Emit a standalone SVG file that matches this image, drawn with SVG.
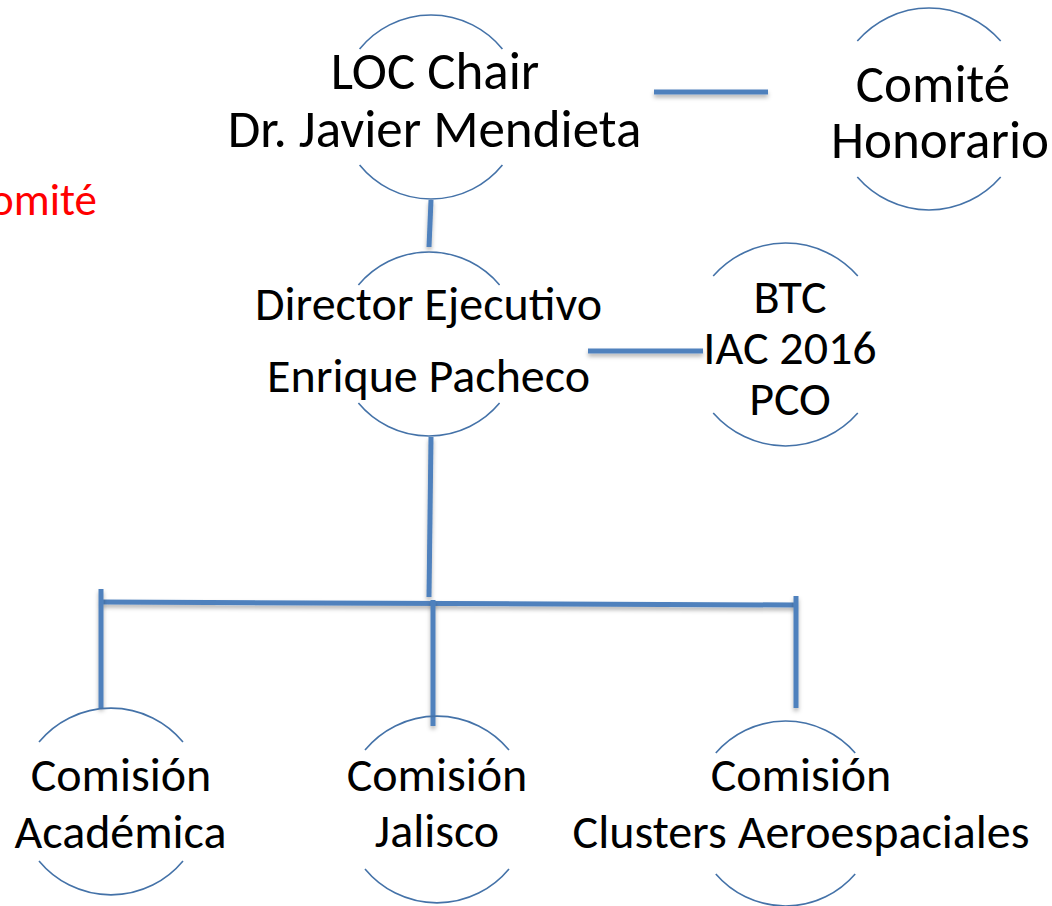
<svg xmlns="http://www.w3.org/2000/svg" width="1052" height="906" viewBox="0 0 1052 906">
<style>
.arc{fill:none;stroke:#4472A8;stroke-width:1.6}
.t{font-family:Carlito,Lato,'Open Sans',sans-serif;fill:#000;text-anchor:middle}
.l{font-size:53px}
.m{font-size:48px}
.red{font-family:Carlito,Lato,'Open Sans',sans-serif;font-size:45px;fill:#FF0000;text-anchor:end}
.c{fill:none;stroke:#4F81BD;stroke-width:5;filter:url(#sh)}
</style>
<defs>
<filter id="sh" filterUnits="userSpaceOnUse" x="0" y="0" width="1052" height="906">
<feDropShadow dx="0" dy="3" stdDeviation="2" flood-color="#000" flood-opacity="0.3"/>
</filter>
</defs>
<rect width="1052" height="906" fill="#fff"/>
<text class="red" x="97" y="215">Comité</text>
<g id="connectors">
<path class="c" d="M654,92 L768,92"/>
<path class="c" d="M431,200 L429,247"/>
<path class="c" d="M588,351 L703,351"/>
<path class="c" d="M431,437 L429,597"/>
<path class="c" d="M101,602 L796,605"/>
<path class="c" d="M101,589 L101,708"/>
<path class="c" d="M796,596 L796,708"/>
<path class="c" d="M433,600 L433,726"/>
</g>
<g id="loc-chair">
<path class="arc" d="M359.6,49 A92,92 0 0 1 502.4,49"/>
<path class="arc" d="M359.6,165 A92,92 0 0 0 502.4,165"/>
<text class="t l" x="435" y="89">LOC Chair</text>
<text class="t l" x="434.5" y="147">Dr. Javier Mendieta</text>
</g>
<g id="comite-honorario">
<path class="arc" d="M857.3,41 A97,101 0 0 1 1000.7,41"/>
<path class="arc" d="M857.3,177 A97,101 0 0 0 1000.7,177"/>
<text class="t l" x="933" y="102">Comité</text>
<text class="t l" x="940" y="158">Honorario</text>
</g>
<g id="director">
<path class="arc" d="M358.4,285 A92,92 0 0 1 499.6,285"/>
<path class="arc" d="M358.4,403 A92,92 0 0 0 499.6,403"/>
<text class="t m" x="428.5" y="320">Director Ejecutivo</text>
<text class="t m" x="428.5" y="392">Enrique Pacheco</text>
</g>
<g id="btc">
<path class="arc" d="M713.2,276 A98,101.5 0 0 1 857.8,276"/>
<path class="arc" d="M713.2,413 A98,101.5 0 0 0 857.8,413"/>
<text class="t m" x="790" y="313">BTC</text>
<text class="t m" x="790" y="364">IAC 2016</text>
<text class="t m" x="790" y="415">PCO</text>
</g>
<g id="academica">
<path class="arc" d="M39,742 A93.5,93.5 0 0 1 183,742"/>
<path class="arc" d="M39,861 A93.5,93.5 0 0 0 183,861"/>
<text class="t m" x="121" y="791">Comisión</text>
<text class="t m" x="120.5" y="848">Académica</text>
</g>
<g id="jalisco">
<path class="arc" d="M365,750 A93.5,93.5 0 0 1 509,750"/>
<path class="arc" d="M365,869 A93.5,93.5 0 0 0 509,869"/>
<text class="t m" x="437" y="791">Comisión</text>
<text class="t m" x="437" y="847">Jalisco</text>
</g>
<g id="clusters">
<path class="arc" d="M715.8,753 A92,92 0 0 1 855.2,753"/>
<path class="arc" d="M715.8,874 A92,92 0 0 0 855.2,874"/>
<text class="t m" x="801" y="791">Comisión</text>
<text class="t m" x="801" y="848">Clusters Aeroespaciales</text>
</g>
</svg>
